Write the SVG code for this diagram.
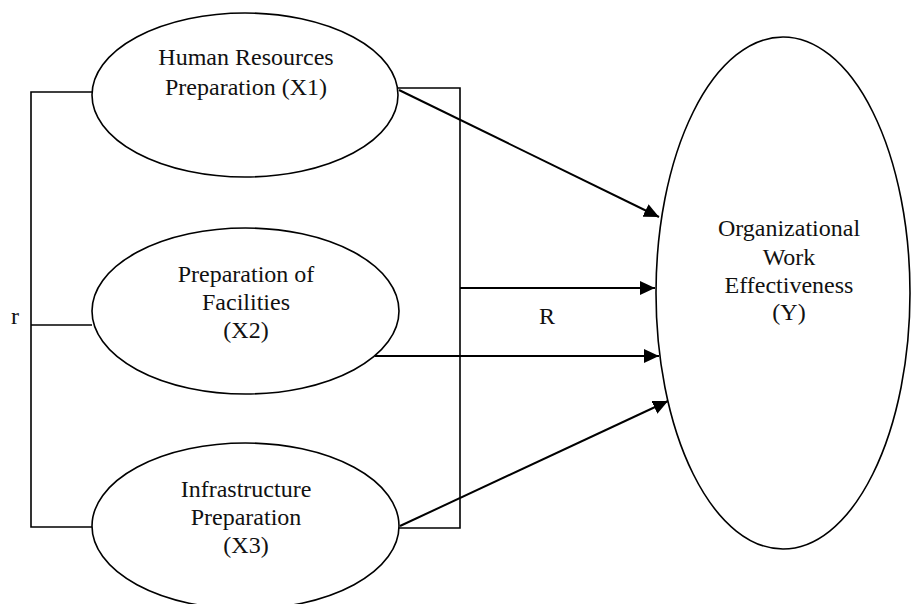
<svg xmlns="http://www.w3.org/2000/svg" width="911" height="604" viewBox="0 0 911 604">
<style>
  .node { fill: #ffffff; stroke: #000000; stroke-width: 1.6; }
  .line { fill: none; stroke: #000000; stroke-width: 1.6; }
  .arrow { fill: none; stroke: #000000; stroke-width: 2; marker-end: url(#ah); }
  .t { font-family: "Liberation Serif", "Times New Roman", serif; font-size: 24px; fill: #111111; text-anchor: middle; }
</style>
<defs>
  <marker id="ah" markerUnits="userSpaceOnUse" markerWidth="16" markerHeight="14" refX="15" refY="7" orient="auto">
    <path d="M0,0 L15,7 L0,14 Z" fill="#000000"/>
  </marker>
</defs>
<rect width="911" height="604" fill="#ffffff"/>
<g id="connectors">
  <path class="line" d="M92,92 H31 V527 H92"/>
  <path class="line" d="M31,325 H92"/>
  <path class="line" d="M398,88 H460 V528 H399"/>
  <line class="arrow" x1="399" y1="90" x2="659" y2="217"/>
  <line class="arrow" x1="460" y1="288" x2="655" y2="288"/>
  <line class="arrow" x1="375" y1="356" x2="659" y2="356"/>
  <line class="arrow" x1="400" y1="526" x2="668" y2="401"/>
  <text class="t" x="15" y="324">r</text>
  <text class="t" x="547" y="324">R</text>
</g>
<g id="x1">
  <ellipse class="node" cx="245" cy="95" rx="153" ry="82"/>
  <text class="t" x="246" y="65">Human Resources</text>
  <text class="t" x="246" y="95">Preparation (X1)</text>
</g>
<g id="x2">
  <ellipse class="node" cx="245.5" cy="311" rx="153.5" ry="83"/>
  <text class="t" x="246" y="282">Preparation of</text>
  <text class="t" x="246" y="310">Facilities</text>
  <text class="t" x="246" y="338">(X2)</text>
</g>
<g id="x3">
  <ellipse class="node" cx="245.5" cy="526" rx="153.5" ry="83"/>
  <text class="t" x="246" y="497">Infrastructure</text>
  <text class="t" x="246" y="525">Preparation</text>
  <text class="t" x="246" y="553">(X3)</text>
</g>
<g id="y">
  <ellipse class="node" cx="783" cy="293" rx="127" ry="256"/>
  <text class="t" x="789" y="236">Organizational</text>
  <text class="t" x="789" y="265">Work</text>
  <text class="t" x="789" y="293">Effectiveness</text>
  <text class="t" x="789" y="320">(Y)</text>
</g>
</svg>
